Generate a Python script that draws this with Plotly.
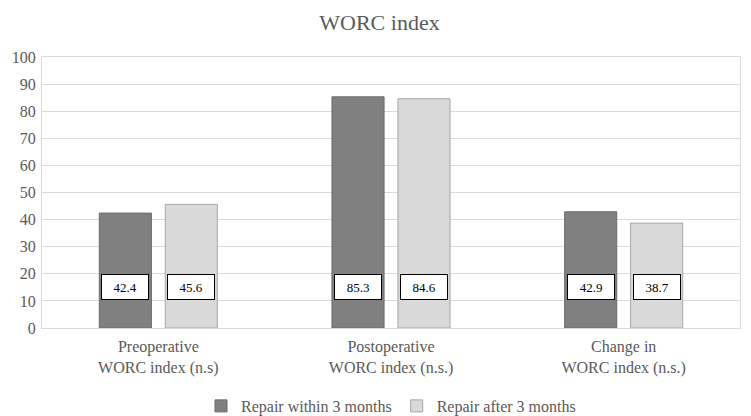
import plotly.graph_objects as go

categories = ["Preoperative<br>WORC index (n.s)", "Postoperative<br>WORC index (n.s.)", "Change in<br>WORC index (n.s.)"]
within_3 = [42.4, 85.3, 42.9]
after_3 = [45.6, 84.6, 38.7]
series_names = ["Repair within 3 months", "Repair after 3 months"]
label_level = 15
y_ticks = list(range(0, 101, 10))

font_family = "Liberation Serif"
bargap = 0.433
bargroupgap = 0.21

fig = go.Figure()
fig.add_trace(go.Bar(name=series_names[0], x=categories, y=within_3,
                     marker=dict(color="#808080", line=dict(color="#6b6b6b", width=1))))
fig.add_trace(go.Bar(name=series_names[1], x=categories, y=after_3,
                     marker=dict(color="#d9d9d9", line=dict(color="#a6a6a6", width=1))))

off = (1 - bargap) / 4
for i, (a, b) in enumerate(zip(within_3, after_3)):
    for dx, v in ((-off, a), (off, b)):
        fig.add_annotation(x=i + dx, y=label_level, text=f"{v:.1f}", showarrow=False,
                           bgcolor="white", bordercolor="black", borderwidth=1,
                           width=42, height=20, borderpad=2,
                           font=dict(family=font_family, size=13, color="black"))

fig.update_layout(
    width=743, height=408,
    paper_bgcolor="white", plot_bgcolor="white",
    barmode="group", bargap=bargap, bargroupgap=bargroupgap,
    margin=dict(l=34, r=11, t=49, b=88, autoexpand=False),
    title=dict(text="WORC index", x=0.5, xanchor="center", y=0.985, yanchor="top",
               font=dict(family=font_family, size=22, color="#595959")),
    font=dict(family=font_family, color="#595959"),
    legend=dict(orientation="h", x=0.5, xanchor="center", y=-0.225, yanchor="top",
                font=dict(family=font_family, size=16, color="#595959"),
                itemwidth=30, traceorder="normal"),
    xaxis=dict(showline=True, linecolor="#d9d9d9", mirror=True, automargin=False,
               tickfont=dict(family=font_family, size=16, color="#595959"), ticks="",
               ticklabelstandoff=4),
    yaxis=dict(range=[0, 100], tickvals=y_ticks, showline=True, linecolor="#d9d9d9", mirror=True,
               gridcolor="#d9d9d9", gridwidth=1, zeroline=False, automargin=False,
               tickfont=dict(family=font_family, size=16, color="#595959"), ticks="",
               ticklabelstandoff=2),
)
fig.write_html("out.html")
